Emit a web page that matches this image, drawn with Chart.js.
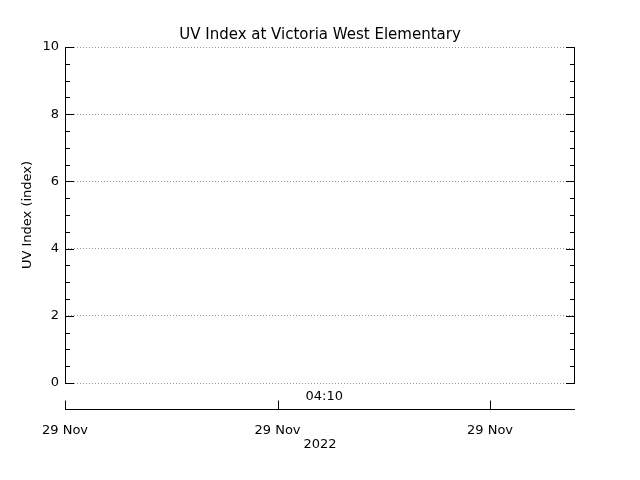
<!DOCTYPE html>
<html>
<head>
<meta charset="utf-8">
<script src="https://cdn.jsdelivr.net/npm/chart.js@4"></script>
<style>
  body { margin: 0; background: #fff; }
  #wrap { width: 640px; height: 480px; }
</style>
</head>
<body>
<div id="wrap"><canvas id="grafico"></canvas></div>
<script>
// dati: nessuna misura disponibile, solo assi
const titolo = "UV Index at Victoria West Elementary";
const etichettaY = "UV Index (index)";
const tickY = [0, 2, 4, 6, 8, 10];
const tickX = [0, 1, 2];
const etichetteX = ["29 Nov", "29 Nov", "29 Nov"];
const anno = "2022";
const orario = "04:10";
const valoriUV = [];

const font = { family: "DejaVu Sans", size: 13 };

// disegna cornice, tacche e asse delle date
const cornice = {
  id: "cornice",
  afterDraw(chart) {
    const c = chart.ctx;
    const a = chart.chartArea;
    const y = chart.scales.y;
    const x = chart.scales.x;
    c.save();
    c.strokeStyle = "#000";
    c.lineWidth = 1;
    c.beginPath();
    c.moveTo(a.left + 0.5, a.top); c.lineTo(a.left + 0.5, a.bottom);
    c.moveTo(a.right - 0.5, a.top); c.lineTo(a.right - 0.5, a.bottom);
    for (let v = 0; v <= 10; v += 0.5) {
      const py = Math.round(y.getPixelForValue(v)) + 0.5;
      const l = v % 2 === 0 ? 9 : 5;
      c.moveTo(a.left, py); c.lineTo(a.left + l, py);
      c.moveTo(a.right, py); c.lineTo(a.right - l, py);
    }
    // asse delle date
    const base = 409.5;
    c.moveTo(a.left, base); c.lineTo(a.right, base);
    tickX.forEach(v => {
      const px = Math.round(x.getPixelForValue(v)) + 0.5;
      c.moveTo(px, base); c.lineTo(px, base - 9);
    });
    c.stroke();
    c.fillStyle = "#000";
    c.font = font.size + "px " + font.family;
    c.textAlign = "center";
    c.textBaseline = "middle";
    c.fillText(orario, x.getPixelForValue(1.22), 397);
    c.restore();
  }
};

new Chart(document.getElementById("grafico").getContext("2d"), {
  type: "line",
  data: { datasets: [{ data: valoriUV, borderColor: "#000" }] },
  options: {
    responsive: true,
    maintainAspectRatio: false,
    animation: false,
    layout: { padding: 0 },
    plugins: {
      legend: { display: false },
      tooltip: { enabled: false },
      title: {
        display: true, text: titolo, color: "#000",
        font: { family: font.family, size: 15, weight: "normal" },
        padding: { top: 26, bottom: 3 }
      }
    },
    scales: {
      x: {
        type: "linear", min: 0, max: 2.4,
        afterBuildTicks: s => { s.ticks = tickX.map(v => ({ value: v })); },
        afterFit: s => { s.height = 97; },
        grid: { display: false, drawTicks: false },
        border: { display: false },
        ticks: {
          color: "#000", font: font, padding: 40, maxRotation: 0,
          callback: (v, i) => etichetteX[i]
        },
        title: { display: true, text: anno, color: "#000", font: font, padding: { top: 0, bottom: 28 } }
      },
      y: {
        min: 0, max: 10,
        afterBuildTicks: s => { s.ticks = tickY.map(v => ({ value: v })); },
        afterFit: s => { s.width = 65; },
        grid: { color: "#999", drawTicks: false },
        border: { display: false, dash: [1, 2] },
        ticks: { color: "#000", font: font, padding: 6 },
        title: { display: true, text: etichettaY, color: "#000", font: font, padding: 20 }
      },
      y2: {
        position: "right", min: 0, max: 10,
        afterFit: s => { s.width = 65; },
        grid: { display: false, drawTicks: false },
        border: { display: false },
        ticks: { display: false }
      }
    }
  },
  plugins: [cornice]
});
</script>
</body>
</html>
